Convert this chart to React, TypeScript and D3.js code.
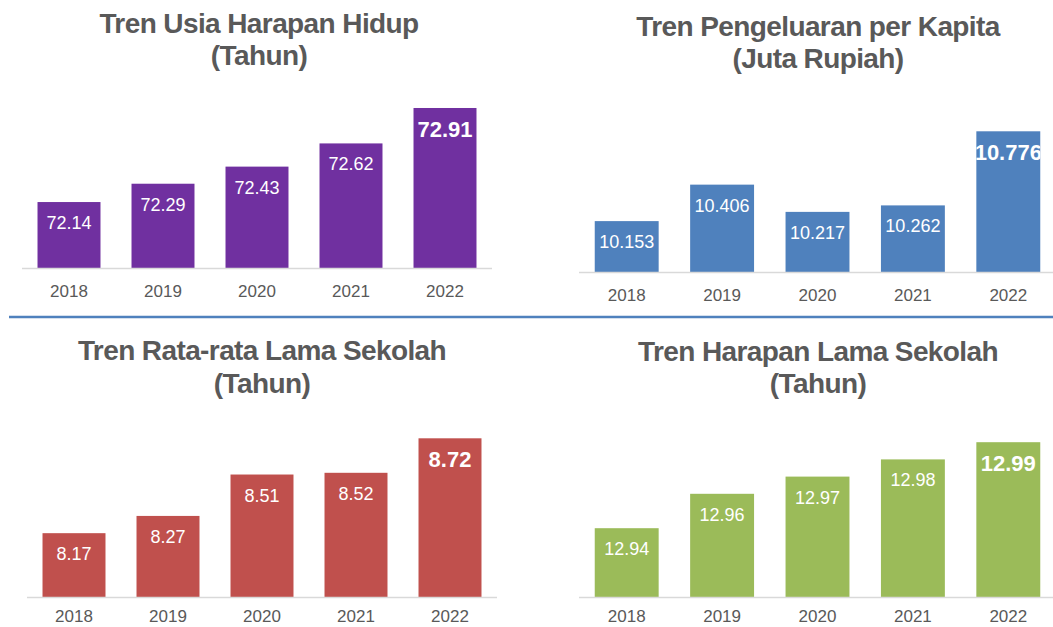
import React from "react";
import * as d3 from "d3";

const years = ["2018", "2019", "2020", "2021", "2022"];
const usiaHarapanHidup = [72.14, 72.29, 72.43, 72.62, 72.91];
const pengeluaranPerKapita = [10.153, 10.406, 10.217, 10.262, 10.776];
const rataLamaSekolah = [8.17, 8.27, 8.51, 8.52, 8.72];
const harapanLamaSekolah = [12.94, 12.96, 12.97, 12.98, 12.99];

const panels = [
  {
    id: "p1",
    title: ["Tren Usia Harapan Hidup", "(Tahun)"],
    values: usiaHarapanHidup,
    fmt: (v: number) => v.toFixed(2),
    color: "#7030a0",
    domain: [71.6, 73.0],
    yRange: [268, 97],
    xRange: [22, 492],
    axisX: [22, 492],
    titleX: 259,
    titleY: [33, 65],
    yearOffset: 29,
  },
  {
    id: "p2",
    title: ["Tren Pengeluaran per Kapita", "(Juta Rupiah)"],
    values: pengeluaranPerKapita,
    fmt: (v: number) => v.toFixed(3),
    color: "#4f81bd",
    domain: [9.8, 11.0],
    yRange: [272, 99],
    xRange: [579, 1056],
    axisX: [579, 1053],
    titleX: 818,
    titleY: [36, 68],
    yearOffset: 29,
  },
  {
    id: "p3",
    title: ["Tren Rata-rata Lama Sekolah", "(Tahun)"],
    values: rataLamaSekolah,
    fmt: (v: number) => v.toFixed(2),
    color: "#c0504d",
    domain: [7.8, 9.0],
    yRange: [597, 390],
    xRange: [27, 497],
    axisX: [27, 497],
    titleX: 262,
    titleY: [360, 393],
    yearOffset: 25,
  },
  {
    id: "p4",
    title: ["Tren Harapan Lama Sekolah", "(Tahun)"],
    values: harapanLamaSekolah,
    fmt: (v: number) => v.toFixed(2),
    color: "#9bbb59",
    domain: [12.9, 13.0],
    yRange: [597, 425],
    xRange: [579, 1056],
    axisX: [579, 1053],
    titleX: 818,
    titleY: [361, 393],
    yearOffset: 25,
  },
];

const FONT = "'Liberation Sans', Arial, Helvetica, sans-serif";

function Panel({ p }: { p: (typeof panels)[number] }) {
  const x = d3
    .scaleBand<string>()
    .domain(years)
    .range(p.xRange as [number, number])
    .paddingInner(0.33)
    .paddingOuter(0.165);
  const y = d3
    .scaleLinear()
    .domain(p.domain as [number, number])
    .range(p.yRange as [number, number]);
  const base = y(p.domain[0]);
  const last = p.values.length - 1;
  return (
    <g>
      <defs>
        {p.values.map((v, i) => (
          <clipPath id={`${p.id}-c${i}`} key={i}>
            <rect
              x={x(years[i])!}
              y={y(v)}
              width={x.bandwidth()}
              height={base - y(v)}
            />
          </clipPath>
        ))}
      </defs>
      <text
        x={p.titleX}
        textAnchor="middle"
        fontFamily={FONT}
        fontWeight="bold"
        fontSize={28}
        letterSpacing={-0.6}
        fill="#595959"
      >
        <tspan x={p.titleX} y={p.titleY[0]}>
          {p.title[0]}
        </tspan>
        <tspan x={p.titleX} y={p.titleY[1]}>
          {p.title[1]}
        </tspan>
      </text>
      {p.values.map((v, i) => (
        <rect
          key={i}
          x={x(years[i])!}
          y={y(v)}
          width={x.bandwidth()}
          height={base - y(v)}
          fill={p.color}
        />
      ))}
      <line
        x1={p.axisX[0]}
        x2={p.axisX[1]}
        y1={base + 0.5}
        y2={base + 0.5}
        stroke="#d9d9d9"
        strokeWidth={1.5}
      />
      {p.values.map((v, i) => (
        <text
          key={i}
          x={x(years[i])! + x.bandwidth() / 2}
          y={y(v) + (i === last ? 29 : 27)}
          textAnchor="middle"
          fontFamily={FONT}
          fontWeight={i === last ? "bold" : "normal"}
          fontSize={i === last ? 22 : 18}
          fill="#ffffff"
          clipPath={`url(#${p.id}-c${i})`}
        >
          {p.fmt(v)}
        </text>
      ))}
      {years.map((yr) => (
        <text
          key={yr}
          x={x(yr)! + x.bandwidth() / 2}
          y={base + p.yearOffset}
          textAnchor="middle"
          fontFamily={FONT}
          fontSize={17}
          fill="#595959"
        >
          {yr}
        </text>
      ))}
    </g>
  );
}

export default function App() {
  return (
    <svg
      width={1053}
      height={627}
      style={{ position: "absolute", left: 0, top: 0, background: "#ffffff" }}
    >
      <rect x={0} y={0} width={1053} height={627} fill="#ffffff" />
      {panels.map((p) => (
        <Panel key={p.id} p={p} />
      ))}
      <line x1={9} x2={1053} y1={317} y2={317} stroke="#4f81bd" strokeWidth={2.5} />
    </svg>
  );
}
